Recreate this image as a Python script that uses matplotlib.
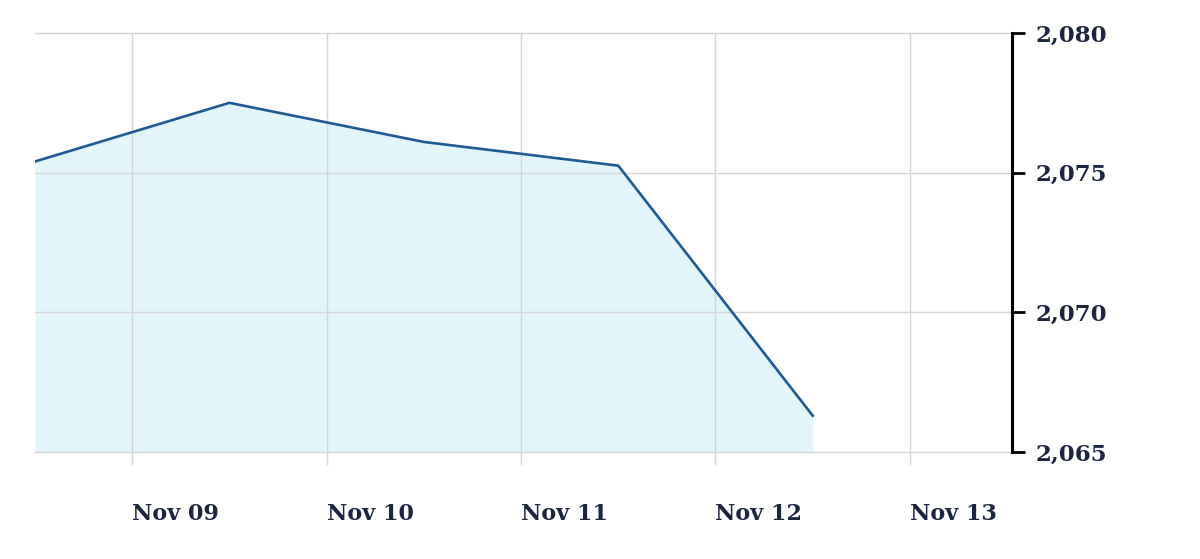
import matplotlib.pyplot as plt
import matplotlib.dates as mdates
import pandas as pd

# values (one point per day, around midday)
times = pd.to_datetime(['2015-11-08 12:00', '2015-11-09 12:00', '2015-11-10 12:00',
                        '2015-11-11 12:00', '2015-11-12 12:00'])
values = [2075.4, 2077.5, 2076.1, 2075.25, 2066.3]

day_ticks = pd.to_datetime(['2015-11-09', '2015-11-10', '2015-11-11', '2015-11-12', '2015-11-13'])
y_ticks = [2065, 2070, 2075, 2080]
y_min, y_max = 2065, 2080

line_color = '#1f5a94'
fill_color = '#e2f5fb'
grid_color = '#d6d6d6'
label_color = '#1b2540'

fig = plt.figure(figsize=(12, 5.59), dpi=100)
ax = fig.add_axes([35 / 1200, 1 - 452 / 559, (1012 - 35) / 1200, (452 - 33) / 559])

ax.fill_between(times, values, y_min, color=fill_color, linewidth=0, zorder=1)
ax.plot(times, values, color=line_color, linewidth=1.9, solid_joinstyle='miter', zorder=3)

ax.set_xlim(pd.Timestamp('2015-11-08 12:00'), pd.Timestamp('2015-11-13 12:36'))
ax.set_ylim(y_min, y_max)

ax.set_xticks(day_ticks)
ax.xaxis.set_major_formatter(mdates.DateFormatter('%b %d'))
ax.set_yticks(y_ticks)
ax.set_yticklabels([f'{v:,}' for v in y_ticks])

ax.yaxis.tick_right()
for side in ['left', 'top', 'bottom']:
    ax.spines[side].set_visible(False)
ax.spines['right'].set_color('black')
ax.spines['right'].set_linewidth(2.2)
ax.spines['right'].set_zorder(4)

# grid sits over the light fill, under the line
ax.grid(True, color=grid_color, linewidth=1.0)
for gl in ax.get_xgridlines() + ax.get_ygridlines():
    gl.set_zorder(2)
    gl.set_clip_on(False)

ax.tick_params(axis='y', direction='out', length=9, width=2, color='black',
               pad=8, labelsize=16.5, labelcolor=label_color)
ax.tick_params(axis='x', direction='out', length=9.5, width=1.0, color=grid_color,
               pad=27, labelsize=16, labelcolor=label_color)

for lbl in ax.get_yticklabels():
    lbl.set_fontfamily('DejaVu Serif')
    lbl.set_fontweight('bold')
for lbl in ax.get_xticklabels():
    lbl.set_fontfamily('DejaVu Serif')
    lbl.set_fontweight('bold')
    lbl.set_horizontalalignment('left')

fig.savefig('out.png', dpi=100)
